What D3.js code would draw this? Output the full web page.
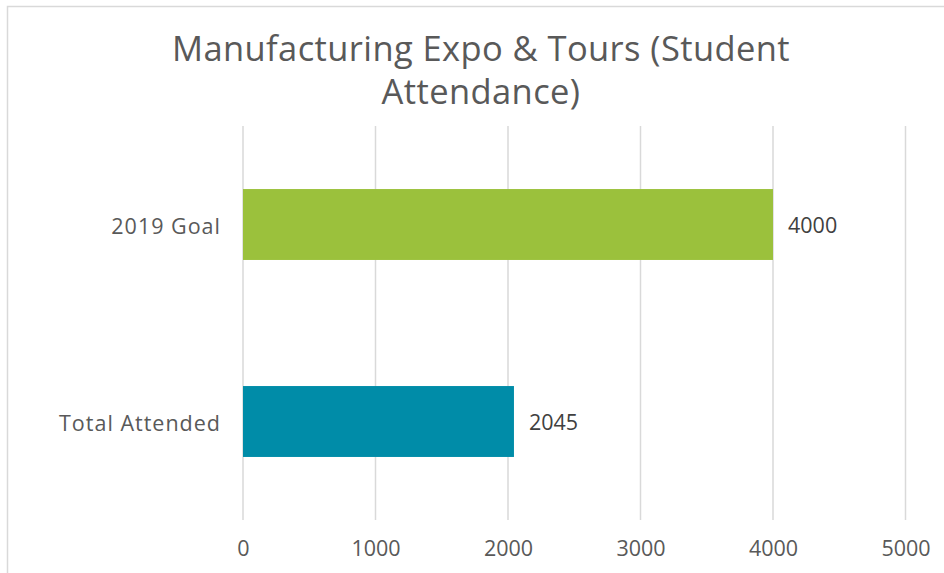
<!DOCTYPE html>
<html>
<head>
<meta charset="utf-8">
<script src="https://cdn.jsdelivr.net/npm/d3@7"></script>
<style>
  body { margin: 0; background: #fff; }
  text { font-family: "Open Sans", sans-serif; }
</style>
</head>
<body>
<svg id="chart" width="944" height="573"></svg>
<script>
const categories = ['2019 Goal', 'Total Attended'];
const values = [4000, 2045];
const colors = ['#9bc13c', '#008ca8'];
const xTicks = [0, 1000, 2000, 3000, 4000, 5000];
const titleLines = ['Manufacturing Expo & Tours (Student', 'Attendance)'];

const svg = d3.select('#chart');

// chart frame
svg.append('rect')
  .attr('x', 7.5)
  .attr('y', 6.5)
  .attr('width', 960)
  .attr('height', 600)
  .attr('fill', 'none')
  .attr('stroke', '#d9d9d9')
  .attr('stroke-width', 1.5);

const x = d3.scaleLinear()
  .domain([0, 5000])
  .range([243, 905.5]);

const y = d3.scaleBand()
  .domain(categories)
  .range([126, 520])
  .paddingInner(0.64)
  .paddingOuter(0.32);

// gridlines
svg.append('g')
  .selectAll('line')
  .data(xTicks)
  .enter()
    .append('line')
    .attr('x1', (d) => x(d))
    .attr('x2', (d) => x(d))
    .attr('y1', 126)
    .attr('y2', 520)
    .attr('stroke', '#d9d9d9')
    .attr('stroke-width', 1.5);

// x axis labels
const xAxis = svg.append('g')
  .attr('transform', 'translate(0,520)')
  .call(d3.axisBottom(x).tickValues(xTicks).tickFormat(d3.format('d')).tickSize(0).tickPadding(21));
xAxis.select('.domain').remove();
xAxis.selectAll('text')
  .attr('fill', '#595959')
  .style('font-size', '21.5px');

// category labels
const yAxis = svg.append('g')
  .attr('transform', 'translate(243,0)')
  .call(d3.axisLeft(y).tickSize(0).tickPadding(22));
yAxis.select('.domain').remove();
yAxis.selectAll('text')
  .attr('fill', '#595959')
  .attr('dy', '0.42em')
  .style('font-size', '21.5px')
  .style('letter-spacing', '1px');

// bars
svg.selectAll('rect.bar')
  .data(values)
  .enter()
    .append('rect')
    .attr('class', 'bar')
    .attr('x', x(0))
    .attr('y', (d, i) => y(categories[i]))
    .attr('width', (d) => x(d) - x(0))
    .attr('height', y.bandwidth())
    .attr('fill', (d, i) => colors[i]);

// data labels
svg.selectAll('text.val')
  .data(values)
  .enter()
    .append('text')
    .attr('class', 'val')
    .attr('x', (d) => x(d) + 15)
    .attr('y', (d, i) => y(categories[i]) + y.bandwidth() / 2)
    .attr('dy', '0.4em')
    .attr('fill', '#404040')
    .style('font-size', '21.5px')
    .text((d) => d);

// title
svg.append('g')
  .selectAll('text')
  .data(titleLines)
  .enter()
    .append('text')
    .attr('x', 481)
    .attr('y', (d, i) => 61 + i * 43)
    .attr('text-anchor', 'middle')
    .attr('fill', '#595959')
    .style('font-size', '34.5px')
    .style('letter-spacing', '0.4px')
    .text((d) => d);
</script>
</body>
</html>
